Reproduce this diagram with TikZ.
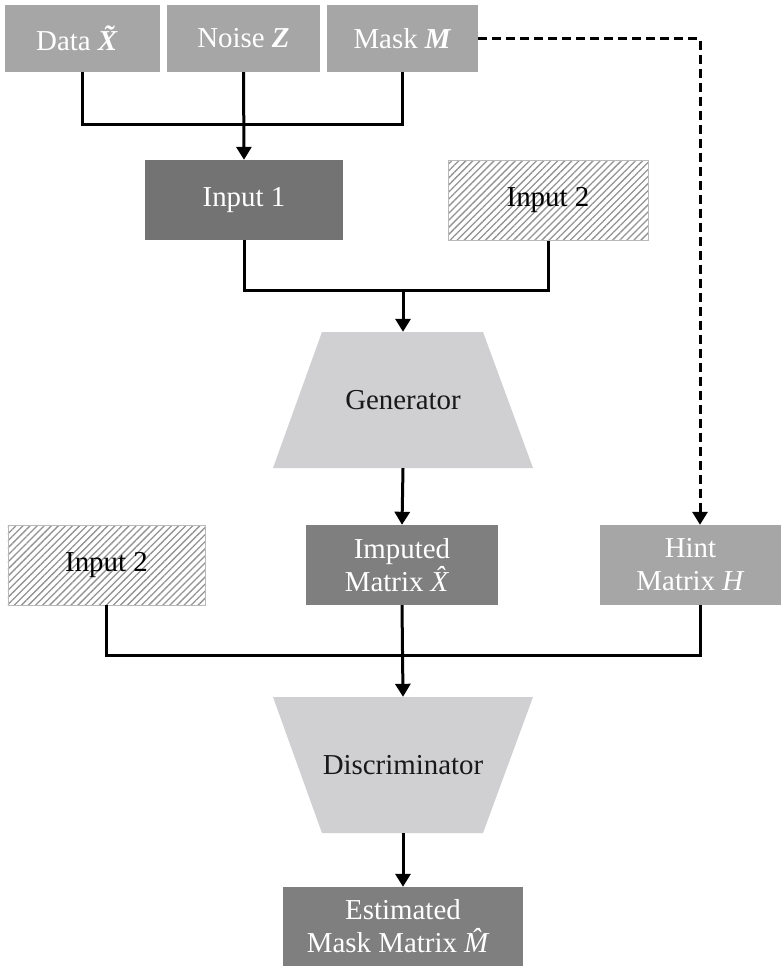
\documentclass[tikz,border=0pt]{standalone}
\usepackage{fontspec}
\setmainfont{Liberation Serif}
\usetikzlibrary{arrows.meta,patterns.meta}
\definecolor{boxlight}{HTML}{A6A6A6}
\definecolor{boxdark}{HTML}{7F7F7F}
\definecolor{boxdarker}{HTML}{737373}
\definecolor{netfill}{HTML}{D0CFD1}
\begin{document}
\begin{tikzpicture}[x=1bp,y=-1bp,
  font=\fontsize{29}{33}\selectfont,
  box/.style={rectangle, inner sep=0pt, align=center, text=white, minimum height=80bp},
  lightbox/.style={box, fill=boxlight},
  darkbox/.style={box, fill=boxdark},
  hatchbox/.style={box, text=black, draw=gray!55, line width=0.8bp,
     pattern={Lines[angle=45,distance=5bp,line width=1.3bp]}, pattern color=gray!85},
  net/.style={rectangle, inner sep=0pt, text=black!90, minimum width=260bp, minimum height=136bp},
  conn/.style={line width=3bp},
  arr/.style={conn, -{Triangle[width=15bp,length=13bp]}}]
\fill[white] (0,0) rectangle (781,966);
\useasboundingbox (0,0) rectangle (781,966);
% top inputs
\node[lightbox, minimum width=155bp, minimum height=67bp] (data) at (82.5,38.5) {Data \textbf{\textit{\~{X}}}};
\node[lightbox, minimum width=153bp, minimum height=67bp] (noise) at (243.5,38.5) {Noise \textbf{\textit{Z}}};
\node[lightbox, minimum width=151bp, minimum height=67bp] (mask) at (402.5,38.5) {Mask \textbf{\textit{M}}};
% second row
\node[box, fill=boxdarker, minimum width=198bp] (in1) at (244,200) {Input 1};
\node[hatchbox, minimum width=200bp] (in2a) at (548,200) {Input 2};
% generator
\fill[netfill] (322,332) -- (483,332) -- (533,468) -- (273,468) -- cycle;
\node[net] (gen) at (403,400) {Generator};
% middle row
\node[hatchbox, minimum width=197bp] (in2b) at (106.5,565) {Input 2};
\node[darkbox, minimum width=192bp] (imp) at (402,565) {Imputed\\Matrix \textit{\^{X}}};
\node[lightbox, minimum width=181bp] (hint) at (690.5,565) {Hint\\Matrix \textit{H}};
% discriminator
\fill[netfill] (273,697) -- (533,697) -- (483,833) -- (322,833) -- cycle;
\node[net] (disc) at (403,765) {Discriminator};
% output
\node[darkbox, minimum width=240bp, minimum height=79bp] (est) at (403,926.5) {Estimated\\Mask Matrix \textit{\^{M}}};
% helper coordinates
\coordinate (bus1) at (243.5,124);
\coordinate (bus2) at (403,290);
\coordinate (bus3) at (403,655);
\coordinate (hx) at (700,0);
% connectors
\draw[conn] (data.south) |- (mask.south |- bus1) -- (mask.south);
\draw[arr] (noise.south) -- (in1.north);
\draw[conn] (in1.south) |- (in2a.south |- bus2) -- (in2a.south);
\draw[arr] (bus2) -- (gen.north);
\draw[arr] (gen.south) -- (imp.north);
\draw[conn] (in2b.south) |- (hx |- bus3) -- (hint.south -| hx);
\draw[arr] (imp.south) -- (disc.north);
\draw[arr] (disc.south) -- (est.north);
\draw[arr, dash pattern=on 9bp off 5bp] (mask.east) -| (hint.north -| hx);
\end{tikzpicture}
\end{document}
